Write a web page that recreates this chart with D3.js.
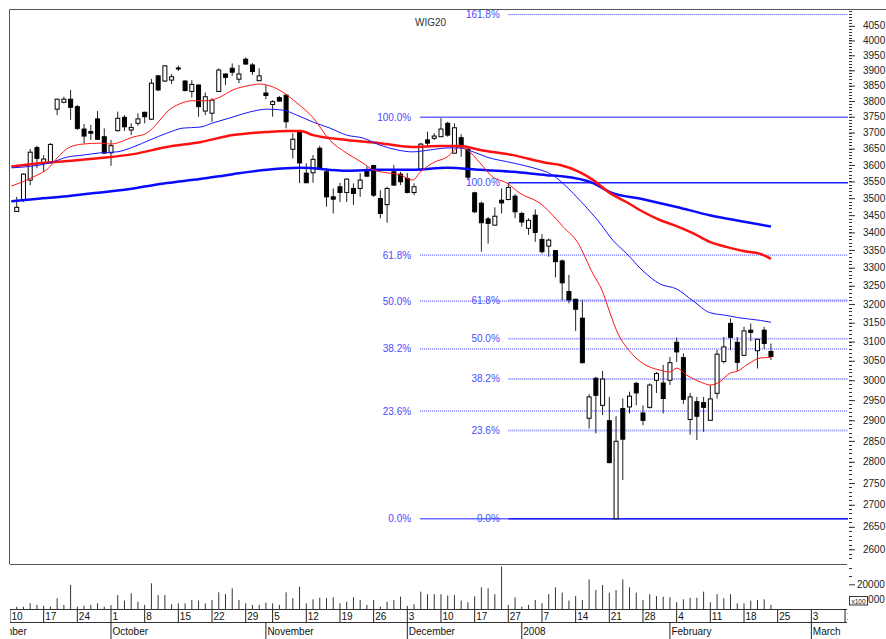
<!DOCTYPE html>
<html>
<head>
<meta charset="utf-8">
<script src="https://cdnjs.cloudflare.com/ajax/libs/d3/7.8.5/d3.min.js"></script>
<style>
  body { margin: 0; background: #fff; }
  svg { display: block; font-family: "Liberation Sans", Arial, sans-serif; }
</style>
</head>
<body>
<div id="chart"></div>
<script>
// WIG20 daily candles, day 1 = 11 Sep 2007 ... day 113 = 22 Feb 2008 : [open, high, low, close]
const ohlc = [
  [3461,3504,3460,3473],[3494,3574,3489,3572],[3554,3649,3539,3639],[3653,3659,3590,3620],[3605,3630,3579,3618],
  [3607,3667,3604,3663],[3774,3807,3755,3806],[3796,3814,3793,3806],[3806,3836,3740,3780],[3782,3787,3708,3713],
  [3711,3727,3666,3689],[3703,3724,3677,3698],[3743,3768,3677,3679],[3687,3713,3635,3636],[3637,3677,3597,3659],
  [3706,3766,3703,3745],[3748,3755,3705,3718],[3708,3729,3692,3716],[3729,3761,3721,3743],[3764,3766,3729,3750],
  [3742,3872,3740,3858],[3882,3885,3832,3836],[3865,3917,3862,3915],[3868,3888,3855,3879],[3908,3916,3898,3905],
  [3865,3868,3831,3834],[3831,3868,3811,3854],[3852,3854,3750,3782],[3768,3828,3755,3814],[3761,3809,3734,3803],
  [3831,3907,3830,3901],[3888,3890,3852,3877],[3907,3923,3882,3894],[3871,3918,3858,3888],[3937,3943,3918,3921],
  [3918,3924,3885,3896],[3866,3907,3865,3882],[3826,3852,3806,3818],[3789,3803,3750,3798],[3811,3816,3798,3800],
  [3819,3822,3713,3734],[3648,3698,3620,3679],[3702,3704,3545,3606],[3575,3605,3545,3546],[3576,3630,3546,3617],
  [3651,3659,3589,3590],[3579,3591,3475,3504],[3504,3529,3455,3497],[3534,3546,3489,3517],[3517,3559,3489,3557],
  [3529,3544,3480,3514],[3529,3575,3504,3554],[3585,3595,3563,3566],[3598,3600,3504,3509],[3499,3524,3441,3455],
  [3481,3534,3428,3529],[3579,3600,3538,3539],[3572,3579,3539,3549],[3559,3575,3514,3517],[3517,3544,3509,3534],
  [3585,3668,3583,3664],[3677,3703,3656,3667],[3682,3698,3677,3689],[3687,3745,3686,3711],[3729,3734,3687,3692],
  [3636,3729,3634,3715],[3684,3695,3625,3656],[3648,3656,3554,3563],[3516,3519,3456,3460],[3485,3490,3345,3428],
  [3439,3445,3368,3426],[3421,3473,3420,3447],[3494,3529,3455,3486],[3496,3546,3494,3532],[3506,3512,3441,3460],
  [3455,3460,3417,3430],[3412,3441,3393,3435],[3450,3467,3373,3400],[3380,3395,3340,3345],[3361,3382,3331,3378],
  [3348,3350,3273,3317],[3319,3323,3211,3258],[3234,3280,3202,3211],[3213,3214,3128,3186],[3162,3211,3043,3045],
  [2905,2965,2880,2958],[3005,3009,2868,2962],[2937,3024,2913,3003],[2899,2958,2796,2798],[2668,2910,2668,2849],
  [2929,2954,2757,2854],[2933,2971,2917,2960],[2992,2996,2937,2968],[2918,2937,2888,2900],[2932,2992,2929,2988],
  [3000,3021,2968,3017],[2993,3039,2917,2954],[3000,3060,2988,3045],[3098,3110,3047,3073],[3058,3069,2940,2952],
  [2902,2968,2865,2958],[2946,2958,2852,2910],[2944,2958,2872,2932],[2900,2988,2899,2953],[2967,3078,2954,3067],
  [3048,3112,3043,3086],[3148,3161,3077,3111],[3098,3112,3024,3046],[3064,3139,3063,3128],[3130,3148,3101,3124],
  [3076,3107,3030,3106],[3130,3139,3081,3095],[3074,3095,3052,3061]
];

// volume (x100), same days
const volume = [
  6000,6000,8100,7100,6500,6000,11300,7100,19600,6000,
  6600,7100,8100,6000,7000,13300,9800,14400,9100,7100,
  20600,13300,13300,7500,8100,8100,10200,9800,8100,10200,
  15000,13900,17500,10200,8100,7100,7100,8500,8100,7100,
  15000,11300,18500,8100,10600,11600,11300,11900,8100,9100,
  11900,10200,7100,10200,6000,9100,10200,12300,6500,7500,
  15400,13800,13800,13800,13000,13300,9800,8800,12500,18100,
  17500,13800,31000,7100,11900,6000,7100,10200,8100,13900,
  18100,14800,9800,12600,10200,23100,16400,19600,14800,16400,
  23100,18100,14800,10200,13800,12600,12300,11900,8800,10600,
  11600,11600,15400,8800,13800,11300,13800,8100,8100,9800,
  10200,10600,7100
];

// moving averages: [day, value]
const maShortRed = [
  [0.2,3536],[3.4,3563],[5.9,3594],[7,3621],[8.9,3655],[10.8,3664],[13.4,3667],[14.9,3664],[18.3,3686],
  [20.3,3698],[22.3,3740],[23.3,3765],[25.2,3791],[27.2,3801],[29.3,3801],[31.2,3813],[33.1,3836],
  [35.2,3849],[37.1,3855],[39.1,3845],[40.5,3829],[42.6,3794],[45,3747],[47.5,3676],[50,3636],
  [52.4,3606],[53.9,3585],[56,3576],[57.9,3570],[59.8,3554],[60.9,3578],[62.8,3606],[64.9,3624],
  [66.8,3655],[67.9,3646],[69.8,3606],[71.7,3563],[73.8,3545],[75.7,3515],[78.7,3485],[81.2,3437],
  [82.1,3417],[84.2,3374],[86.6,3282],[87.9,3238],[89.1,3176],[90.3,3120],[91.6,3084],[94,3043],
  [96.5,3026],[98,3021],[99,3031],[100.5,3013],[102.5,2996],[104,2988],[105.4,2996],[106.9,3018],
  [108,3023],[109.4,3039],[111.4,3057],[113,3059]
];
const maShortBlue = [
  [0.2,3591],[5.9,3606],[8.5,3624],[10.8,3630],[13.4,3637],[15.9,3640],[18.3,3655],[20.8,3677],
  [23.3,3698],[25.7,3714],[28.2,3717],[30.1,3730],[33.1,3749],[35.6,3765],[38.2,3774],[40.5,3771],
  [42.6,3755],[45,3733],[47.5,3714],[50,3692],[52.4,3683],[54.9,3661],[57.5,3646],[59.8,3640],
  [62.4,3646],[64.9,3652],[66.8,3652],[68.8,3640],[70.8,3624],[74.7,3606],[77.7,3591],[80.6,3569],
  [82.7,3533],[84.6,3494],[87.6,3427],[89.5,3378],[91.6,3339],[94,3291],[96.5,3255],[99,3241],
  [101.4,3209],[103.9,3177],[106.5,3169],[107.9,3164],[111.4,3156],[113,3151]
];
const maLongRed = [
  [0.2,3595],[3.4,3603],[8.5,3612],[13.4,3621],[18.3,3633],[23.3,3655],[28.2,3670],[33.1,3692],
  [38.2,3702],[41.1,3705],[43.1,3705],[45,3692],[50,3677],[54.9,3667],[59.8,3655],[63.9,3658],
  [66.8,3658],[69.8,3646],[74.7,3630],[79.7,3606],[81.7,3600],[84.6,3578],[86.6,3554],[89.1,3515],
  [91.6,3488],[94,3460],[96.5,3436],[98.5,3422],[101.4,3398],[103.9,3373],[106.5,3358],[108.9,3347],
  [111.4,3339],[113,3325]
];
const maLongBlue = [
  [0.2,3491],[3.4,3497],[8.5,3506],[13.4,3517],[18.3,3529],[23.3,3545],[28.2,3557],[33.1,3572],
  [38.2,3585],[43.1,3591],[50,3582],[54.9,3585],[59.8,3585],[64.9,3591],[69.8,3585],[74.7,3579],
  [79.7,3569],[81.7,3566],[86.6,3545],[89.1,3518],[94,3497],[99,3474],[103.9,3450],[108.4,3433],
  [113,3417]
];

// fibonacci retracements
const fibLow = 2668;
const fibSet1 = { start: 60.9, high: 3748, ratios: [1, 0.618, 0.5, 0.382, 0.236, 0] };
const fibSet2 = { start: 74, high: 3546, ratios: [1.618, 1, 0.618, 0.5, 0.382, 0.236, 0] };

// date axis: [day, label]
const weekTicks = [[0,'10'],[5,'17'],[10,'24'],[15,'1'],[20,'8'],[25,'15'],[30,'22'],[35,'29'],[39,'5'],
  [44,'12'],[49,'19'],[54,'26'],[59,'3'],[64,'10'],[69,'17'],[74,'27'],[79,'7'],[84,'14'],[89,'21'],
  [94,'28'],[99,'4'],[104,'11'],[109,'18'],[114,'25'],[119,'3'],[124,'10']];
const monthTicks = [[-5,'September'],[15,'October'],[38,'November'],[59,'December'],[76,'2008'],
  [98,'February'],[119,'March']];

const priceLabels = d3.range(2600, 4051, 50);
const priceMinor = d3.range(2580, 4101, 10);
const volLabels = [10000, 20000];
const volMinor = [25000, 30000];

const W = 886, H = 639;
const dayW = 6.734;

const x = d3.scaleLinear().domain([0, 124]).range([10, 10 + 124 * dayW]);
const y = d3.scaleLog().domain([2570, 4108]).range([563, 9]);
const yv = d3.scaleLinear().domain([4560, 30000]).range([609, 568.3]);

const svg = d3.select('#chart').append('svg')
  .attr('width', W).attr('height', H);

const defs = svg.append('defs');
defs.append('clipPath').attr('id', 'clipPlot')
  .append('rect').attr('x', 10).attr('y', 10).attr('width', 838).attr('height', 554);
defs.append('clipPath').attr('id', 'clipAxis')
  .append('rect').attr('x', 10).attr('y', 560).attr('width', 838).attr('height', 80);
defs.append('clipPath').attr('id', 'clipVolLab')
  .append('rect').attr('x', 868).attr('y', 560).attr('width', 20).attr('height', 60);

// frame
const frame = svg.append('g').attr('stroke', '#555').attr('stroke-width', 1);
frame.append('line').attr('x1', 9.5).attr('x2', W).attr('y1', 9.5).attr('y2', 9.5);
frame.append('line').attr('x1', 9.5).attr('x2', 9.5).attr('y1', 9.5).attr('y2', 564);
frame.append('line').attr('x1', 10).attr('x2', 847).attr('y1', 564.5).attr('y2', 564.5);
frame.append('line').attr('x1', 10).attr('x2', 847).attr('y1', 609.5).attr('y2', 609.5).attr('stroke', '#333');
frame.append('line').attr('x1', 10).attr('x2', 847).attr('y1', 622.5).attr('y2', 622.5).attr('stroke', '#333');

svg.append('text').attr('x', 415).attr('y', 25.5)
  .attr('font-size', 10).attr('fill', '#333').text('WIG20');

const plotG = svg.append('g').attr('clip-path', 'url(#clipPlot)');

// fib lines
const fibColor = '#4b4bff';
function drawFib(set, solidColor, dotColor, dotWidth, labelRight) {
  const x0 = x(set.start);
  set.ratios.forEach(r => {
    const v = fibLow + r * (set.high - fibLow);
    const solid = (r === 1 || r === 0);
    plotG.append('line')
      .attr('x1', x0).attr('x2', 848)
      .attr('y1', y(v)).attr('y2', y(v))
      .attr('stroke', solid ? solidColor : (r > 1 ? '#3a3aff' : dotColor))
      .attr('stroke-width', solid ? 1.5 : (r > 1 ? 1 : dotWidth))
      .attr('stroke-dasharray', solid ? null : '1,1');
    svg.append('text')
      .attr('x', x0 - labelRight).attr('y', y(v)).attr('dy', '0.35em')
      .attr('text-anchor', 'end').attr('font-size', 10).attr('fill', fibColor)
      .text((r * 100).toFixed(1) + '%');
  });
}
drawFib(fibSet1, '#6b6bff', '#3a3aff', 1, 9);
drawFib(fibSet2, '#2020ff', '#8a8aff', 2, 8.5);

// candles
const candleG = plotG.append('g');
ohlc.forEach((d, k) => {
  const day = k + 1;
  const [o, h, l, c] = d;
  const cx = x(day);
  candleG.append('line')
    .attr('x1', cx).attr('x2', cx).attr('y1', y(h)).attr('y2', y(l))
    .attr('stroke', '#222').attr('stroke-width', 1);
  const top = y(Math.max(o, c)), bot = y(Math.min(o, c));
  candleG.append('rect')
    .attr('x', cx - 2).attr('width', 4)
    .attr('y', top).attr('height', Math.max(1, bot - top))
    .attr('fill', c >= o ? '#fff' : '#000')
    .attr('stroke', '#000').attr('stroke-width', 1);
});

// moving averages
const maLine = d3.line().x(d => x(d[0])).y(d => y(d[1])).curve(d3.curveMonotoneX);
plotG.append('path').datum(maLongBlue).attr('d', maLine)
  .attr('fill', 'none').attr('stroke', '#0a0aff').attr('stroke-width', 2.5);
plotG.append('path').datum(maLongRed).attr('d', maLine)
  .attr('fill', 'none').attr('stroke', '#ff1010').attr('stroke-width', 2.5);
plotG.append('path').datum(maShortBlue).attr('d', maLine)
  .attr('fill', 'none').attr('stroke', '#1515ff').attr('stroke-width', 1);
plotG.append('path').datum(maShortRed).attr('d', maLine)
  .attr('fill', 'none').attr('stroke', '#ff1515').attr('stroke-width', 1);

// volume
const volG = svg.append('g').attr('clip-path', 'url(#clipAxis)');
volume.forEach((v, k) => {
  volG.append('line')
    .attr('x1', x(k + 1)).attr('x2', x(k + 1))
    .attr('y1', yv.range()[0]).attr('y2', yv(v))
    .attr('stroke', '#333').attr('stroke-width', 1);
});

// price axis
const pAxis = svg.append('g').attr('transform', 'translate(849,0)')
  .call(d3.axisRight(y).tickValues(priceLabels).tickSize(6).tickPadding(8).tickFormat(d3.format('d')));
const pMinor = svg.append('g').attr('transform', 'translate(849,0)')
  .call(d3.axisRight(y).tickValues(priceMinor).tickSize(3).tickFormat(''));

// volume axis
const vAxis = svg.append('g').attr('transform', 'translate(849,0)')
  .call(d3.axisRight(yv).tickValues([20000]).tickSize(6).tickPadding(2).tickFormat(d3.format('d')));
const vMinor = svg.append('g').attr('transform', 'translate(849,0)')
  .call(d3.axisRight(yv).tickValues(volMinor).tickSize(3).tickFormat(''));

[pAxis, pMinor, vAxis, vMinor].forEach(g => {
  g.select('.domain').remove();
  g.selectAll('line').attr('stroke', '#333');
  g.selectAll('text').attr('font-size', 10).attr('fill', '#222')
    .attr('font-family', '"Liberation Sans", Arial, sans-serif');
});
[pMinor, vMinor].forEach(g => g.selectAll('line').attr('shape-rendering', 'crispEdges'));

// 10000 label sits behind the x100 box, only its tail shows
svg.append('text').attr('clip-path', 'url(#clipVolLab)')
  .attr('x', 857).attr('y', yv(volLabels[0])).attr('dy', '0.32em')
  .attr('font-size', 10).attr('fill', '#222').text(d3.format('d')(volLabels[0]));
svg.append('rect').attr('x', 849.5).attr('y', 596.5).attr('width', 18).attr('height', 8.5)
  .attr('fill', '#fff').attr('stroke', '#333').attr('stroke-width', 1);
svg.append('text').attr('x', 858.5).attr('y', 603.5).attr('text-anchor', 'middle')
  .attr('font-size', 6.5).attr('fill', '#222').text('x100');

// date axis
const dateG = svg.append('g').attr('clip-path', 'url(#clipAxis)');
weekTicks.forEach(([d, lab]) => {
  dateG.append('line').attr('x1', x(d)).attr('x2', x(d)).attr('y1', 609).attr('y2', 622.5)
    .attr('stroke', '#222');
  dateG.append('text').attr('x', x(d) + 1.5).attr('y', 619.5)
    .attr('font-size', 10).attr('fill', '#111').text(lab);
});
monthTicks.forEach(([d, lab]) => {
  dateG.append('line').attr('x1', x(d)).attr('x2', x(d)).attr('y1', 622).attr('y2', 639)
    .attr('stroke', '#222');
  dateG.append('text').attr('x', x(d) + 1.5).attr('y', 635)
    .attr('font-size', 10).attr('fill', '#111').text(lab);
});
</script>
</body>
</html>
